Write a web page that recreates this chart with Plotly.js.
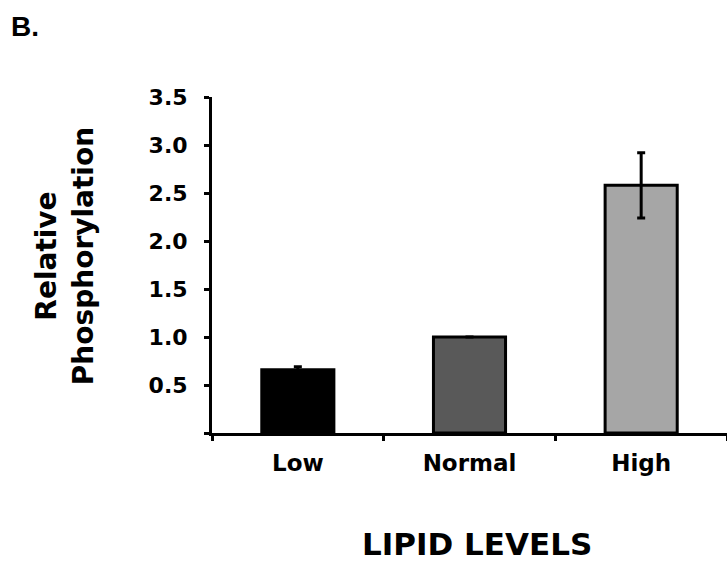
<!DOCTYPE html>
<html>
<head>
<meta charset="utf-8">
<script src="https://cdn.plot.ly/plotly-3.0.1.min.js"></script>
<style>
  html, body { margin: 0; padding: 0; background: #ffffff; }
  #chart { width: 727px; height: 561px; }
</style>
</head>
<body>
<div id="chart"></div>
<script>
// Data
const categories = ["Low", "Normal", "High"];
const values = [0.66, 1.0, 2.58];
const errors = [0.03, 0.0, 0.34];
const barColors = ["#000000", "#595959", "#a6a6a6"];
const yTickVals = [0, 0.5, 1.0, 1.5, 2.0, 2.5, 3.0, 3.5];
const yTickText = ["", "0.5", "1.0", "1.5", "2.0", "2.5", "3.0", "3.5"];
const yTitleText = "Relative<br>Phosphorylation";
const xTitleText = "LIPID LEVELS";
const panelLabel = "B.";

const FONT = "DejaVu Sans, Arial, sans-serif";

const trace = {
  type: "bar",
  x: categories,
  y: values,
  marker: { color: barColors, line: { color: "#000000", width: 3 } },
  error_y: { type: "data", array: errors, visible: true, color: "#000000", thickness: 3, width: 4 },
  hoverinfo: "none"
};

const layout = {
  width: 727,
  height: 561,
  margin: { l: 212, r: 0, t: 97, b: 128 },
  paper_bgcolor: "#ffffff",
  plot_bgcolor: "#ffffff",
  showlegend: false,
  bargap: 0.58,
  font: { family: FONT, color: "#000000" },
  xaxis: {
    type: "category",
    range: [-0.5, 2.5],
    showline: true,
    linecolor: "#000000",
    linewidth: 3,
    ticks: "outside",
    tickson: "boundaries",
    ticklen: 5,
    tickwidth: 3,
    tickcolor: "#000000",
    showgrid: false,
    zeroline: false,
    ticklabelstandoff: 7,
    tickfont: { family: FONT, size: 23, weight: "bold", color: "#000000" },
    fixedrange: true
  },
  yaxis: {
    range: [0, 3.5],
    tickmode: "array",
    tickvals: yTickVals,
    ticktext: yTickText,
    showline: true,
    linecolor: "#000000",
    linewidth: 3,
    ticks: "outside",
    ticklen: 5,
    tickwidth: 3,
    tickcolor: "#000000",
    showgrid: false,
    zeroline: false,
    ticklabelstandoff: 12,
    tickfont: { family: FONT, size: 22, weight: "bold", color: "#000000" },
    fixedrange: true
  },
  annotations: [
    {
      text: yTitleText,
      xref: "paper", yref: "paper",
      x: -0.285, y: 0.527,
      xanchor: "center", yanchor: "middle",
      textangle: -90,
      showarrow: false,
      font: { family: FONT, size: 28, weight: "bold", color: "#000000" }
    },
    {
      text: xTitleText,
      xref: "paper", yref: "paper",
      x: 0.514, y: -0.33,
      xanchor: "center", yanchor: "middle",
      showarrow: false,
      font: { family: FONT, size: 31, weight: "bold", color: "#000000" }
    },
    {
      text: panelLabel,
      xref: "paper", yref: "paper",
      x: -0.395, y: 1.262,
      xanchor: "left", yanchor: "top",
      showarrow: false,
      font: { family: "Liberation Sans, Arial, sans-serif", size: 28, weight: "bold", color: "#000000" }
    }
  ]
};

Plotly.newPlot("chart", [trace], layout, { displayModeBar: false, staticPlot: true });
</script>
</body>
</html>
